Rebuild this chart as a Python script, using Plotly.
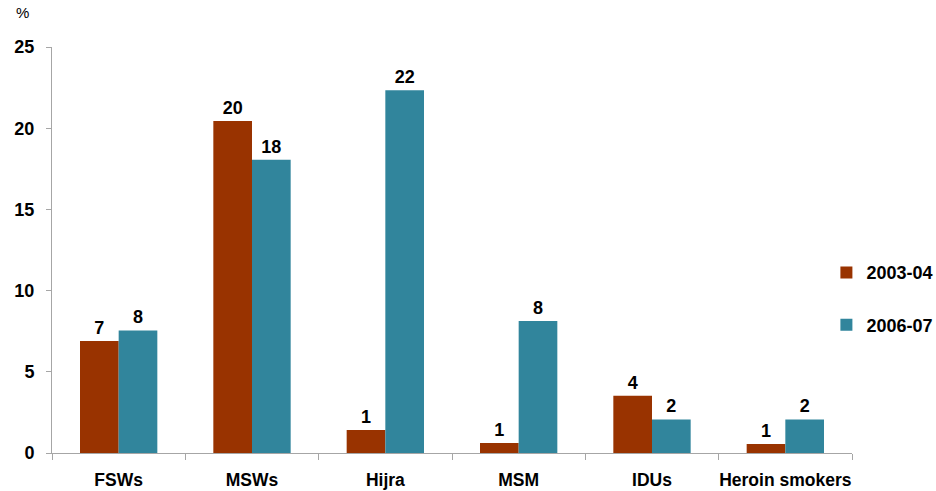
import plotly.graph_objects as go

categories = ["FSWs", "MSWs", "Hijra", "MSM", "IDUs", "Heroin smokers"]
series_names = ["2003-04", "2006-07"]
values_2003 = [6.9, 20.44, 1.42, 0.62, 3.53, 0.55]
values_2006 = [7.55, 18.06, 22.33, 8.13, 2.07, 2.07]
y_ticks = [0, 5, 10, 15, 20, 25]
colors = ["#993300", "#31859C"]

FONT = "Liberation Sans, Arial, sans-serif"

fig = go.Figure()
for i, (name, vals) in enumerate(zip(series_names, [values_2003, values_2006])):
    fig.add_trace(go.Bar(
        x=categories, y=vals, name=name,
        marker=dict(color=colors[i], line=dict(width=0)),
        text=[f"<b>{v:.0f}</b>" for v in vals],
        textposition="outside",
        textfont=dict(family=FONT, size=18, color="black"),
        cliponaxis=False,
        legendgroup=name,
    ))

fig.update_layout(
    width=936, height=491,
    margin=dict(l=52, r=84, t=47, b=38, autoexpand=False),
    plot_bgcolor="white", paper_bgcolor="white",
    barmode="group", bargap=0.42, bargroupgap=0,
    font=dict(family=FONT, size=16, color="black"),
    showlegend=True,
    legend=dict(
        x=0.968, y=0.38, xanchor="left", yanchor="middle",
        font=dict(family=FONT, size=18, color="black", weight="bold"),
        tracegroupgap=26, itemwidth=30, bgcolor="rgba(0,0,0,0)",
    ),
    xaxis=dict(
        type="category", showgrid=False, showline=True, linecolor="#A6A6A6", linewidth=1,
        ticks="outside", tickson="boundaries", ticklen=6, tickcolor="#A6A6A6",
        tickfont=dict(family=FONT, size=17.5, color="black", weight="bold"),
        tickangle=0, ticklabelstandoff=11, automargin=False,
    ),
    yaxis=dict(
        range=[0, 25], tickvals=y_ticks, showgrid=False, zeroline=False,
        showline=True, linecolor="#A6A6A6", linewidth=1,
        ticks="outside", ticklen=5, tickcolor="#A6A6A6",
        tickfont=dict(family=FONT, size=18, color="black", weight="bold"),
        ticklabelstandoff=8, automargin=False,
    ),
    annotations=[dict(
        text="%", xref="paper", yref="paper", x=-0.048, y=1.06,
        xanchor="left", yanchor="bottom", showarrow=False,
        font=dict(family=FONT, size=15, color="black"),
    )],
)

fig.write_html("out.html")
